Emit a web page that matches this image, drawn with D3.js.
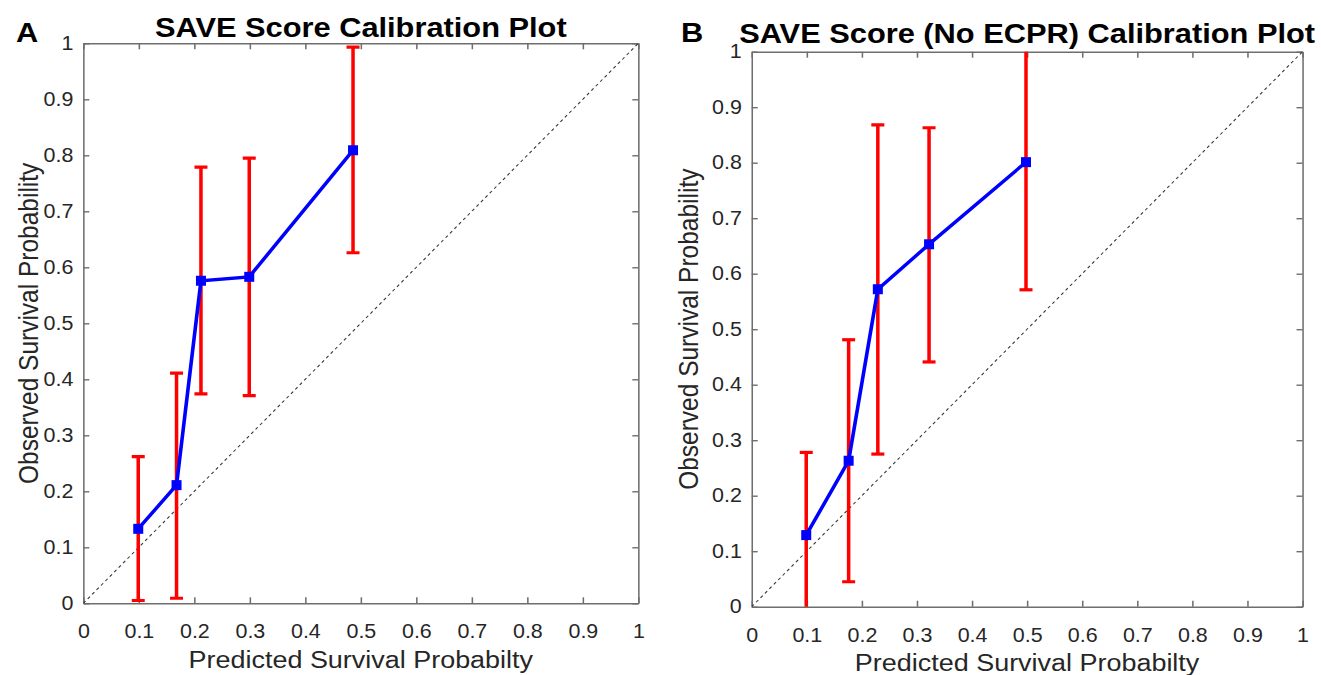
<!DOCTYPE html>
<html>
<head>
<meta charset="utf-8">
<script src="https://d3js.org/d3.v7.min.js"></script>
<style>
body { margin: 0; background: #fff; }
text { font-family: "Liberation Sans", Arial, Helvetica, sans-serif; }
</style>
</head>
<body>
<div id="chart"></div>
<script>
var width = 1321;
var height = 675;
var SX = 1.1; // the original figure is a little stretched sideways

// tick values and labels (same on both axes of both panels)
var tickValues = [0, 0.1, 0.2, 0.3, 0.4, 0.5, 0.6, 0.7, 0.8, 0.9, 1];
var tickLabels = ["0", "0.1", "0.2", "0.3", "0.4", "0.5", "0.6", "0.7", "0.8", "0.9", "1"];

// panel A: SAVE score
var predA = [0.099, 0.168, 0.212, 0.299, 0.486];
var obsA  = [0.133, 0.211, 0.576, 0.583, 0.809];
var lowA  = [0.005, 0.009, 0.374, 0.371, 0.626];
var highA = [0.262, 0.411, 0.779, 0.795, 0.993];

// panel B: SAVE score without ECPR
var predB = [0.099, 0.176, 0.229, 0.322, 0.498];
var obsB  = [0.129, 0.263, 0.572, 0.653, 0.801];
var lowB  = [-0.03, 0.045, 0.275, 0.441, 0.571];
var highB = [0.278, 0.481, 0.868, 0.863, 1.03];

var titleA = "SAVE Score Calibration Plot";
var titleB = "SAVE Score (No ECPR) Calibration Plot";
var xTitle = "Predicted Survival Probabilty";
var yTitle = "Observed Survival Probability";

window.onload = start;

function start() {
	var svg = d3.select("#chart")
		.append("svg")
		.attr("width", width)
		.attr("height", height);

	var root = svg.append("g").attr("transform", "scale(" + SX + ",1)");

	drawPanel(root, {
		id: "A", title: titleA, pred: predA, obs: obsA, low: lowA, high: highA,
		left: 83.3, right: 638.3, top: 43.3, bottom: 603.3,
		titleY: 37, letterX: 16, xTitleY: 668, yTitleX: 38
	});
	drawPanel(root, {
		id: "B", title: titleB, pred: predB, obs: obsB, low: lowB, high: highB,
		left: 751.7, right: 1302.5, top: 51.7, bottom: 606.7,
		titleY: 43, letterX: 681, xTitleY: 671, yTitleX: 698
	});
}

function styleAxis(sel) {
	sel.attr("font-size", 19.5)
		.attr("font-family", "Liberation Sans, Arial, sans-serif");
	sel.selectAll("path, line")
		.attr("stroke", "#6e6e6e")
		.attr("stroke-width", 1.4);
	sel.selectAll("text").attr("fill", "#262626");
}

function drawPanel(root, p) {
	var xScale = d3.scaleLinear().domain([0, 1]).range([p.left / SX, p.right / SX]);
	var yScale = d3.scaleLinear().domain([0, 1]).range([p.bottom, p.top]);
	var fmt = function(d, i) { return tickLabels[i]; };
	var g = root.append("g");

	// clip marks to the plot box
	g.append("clipPath").attr("id", "clip" + p.id)
		.append("rect")
		.attr("x", xScale(0)).attr("y", yScale(1))
		.attr("width", xScale(1) - xScale(0))
		.attr("height", yScale(0) - yScale(1));

	// axes with inward ticks on all four sides
	g.append("g")
		.attr("transform", "translate(0," + p.bottom + ")")
		.call(d3.axisBottom(xScale).tickValues(tickValues).tickFormat(fmt)
			.tickSizeInner(-6).tickSizeOuter(0).tickPadding(21))
		.call(styleAxis);
	g.append("g")
		.attr("transform", "translate(0," + p.top + ")")
		.call(d3.axisTop(xScale).tickValues(tickValues).tickFormat("")
			.tickSizeInner(-6).tickSizeOuter(0))
		.call(styleAxis);
	g.append("g")
		.attr("transform", "translate(" + (p.left / SX) + ",0)")
		.call(d3.axisLeft(yScale).tickValues(tickValues).tickFormat(fmt)
			.tickSizeInner(-6 / SX).tickSizeOuter(0).tickPadding(9))
		.call(styleAxis);
	g.append("g")
		.attr("transform", "translate(" + (p.right / SX) + ",0)")
		.call(d3.axisRight(yScale).tickValues(tickValues).tickFormat("")
			.tickSizeInner(-6 / SX).tickSizeOuter(0))
		.call(styleAxis);

	var plot = g.append("g").attr("clip-path", "url(#clip" + p.id + ")");

	// perfect calibration diagonal
	plot.append("line")
		.attr("x1", xScale(0)).attr("y1", yScale(0))
		.attr("x2", xScale(1)).attr("y2", yScale(1))
		.attr("stroke", "#333")
		.attr("stroke-width", 1)
		.attr("stroke-dasharray", "3,3");

	var idx = d3.range(p.pred.length);
	var capHalf = 6.5 / SX;

	// error bars
	plot.selectAll(".bar")
		.data(idx)
		.enter()
		.append("line")
		.attr("x1", function(i) { return xScale(p.pred[i]); })
		.attr("x2", function(i) { return xScale(p.pred[i]); })
		.attr("y1", function(i) { return yScale(p.low[i]); })
		.attr("y2", function(i) { return yScale(p.high[i]); })
		.attr("stroke", "#ff0000")
		.attr("stroke-width", 3.2);
	["low", "high"].forEach(function(k) {
		plot.selectAll(".cap" + k)
			.data(idx)
			.enter()
			.append("line")
			.attr("x1", function(i) { return xScale(p.pred[i]) - capHalf; })
			.attr("x2", function(i) { return xScale(p.pred[i]) + capHalf; })
			.attr("y1", function(i) { return yScale(p[k][i]); })
			.attr("y2", function(i) { return yScale(p[k][i]); })
			.attr("stroke", "#ff0000")
			.attr("stroke-width", 3.2);
	});

	// observed line and square markers
	var line = d3.line()
		.x(function(i) { return xScale(p.pred[i]); })
		.y(function(i) { return yScale(p.obs[i]); });
	plot.append("path")
		.attr("d", line(idx))
		.attr("fill", "none")
		.attr("stroke", "#0000ff")
		.attr("stroke-width", 3.3);
	plot.selectAll(".marker")
		.data(idx)
		.enter()
		.append("rect")
		.attr("x", function(i) { return xScale(p.pred[i]) - 5 / SX; })
		.attr("y", function(i) { return yScale(p.obs[i]) - 5; })
		.attr("width", 10 / SX)
		.attr("height", 10)
		.attr("fill", "#0000ff");

	// texts
	var cx = (xScale(0) + xScale(1)) / 2;
	g.append("text")
		.attr("x", cx).attr("y", p.titleY)
		.attr("text-anchor", "middle")
		.attr("font-size", 28)
		.attr("font-weight", "bold")
		.attr("fill", "#000")
		.text(p.title);
	g.append("text")
		.attr("x", p.letterX / SX).attr("y", 42)
		.attr("font-size", 28)
		.attr("font-weight", "bold")
		.attr("fill", "#000")
		.text(p.id);
	g.append("text")
		.attr("x", cx).attr("y", p.xTitleY)
		.attr("text-anchor", "middle")
		.attr("font-size", 24.5)
		.attr("fill", "#262626")
		.text(xTitle);
	g.append("text")
		.attr("transform", "translate(" + (p.yTitleX / SX) + "," + ((p.top + p.bottom) / 2) + ") rotate(-90)")
		.attr("text-anchor", "middle")
		.attr("font-size", 24.5)
		.attr("fill", "#262626")
		.text(yTitle);
}
</script>
</body>
</html>
